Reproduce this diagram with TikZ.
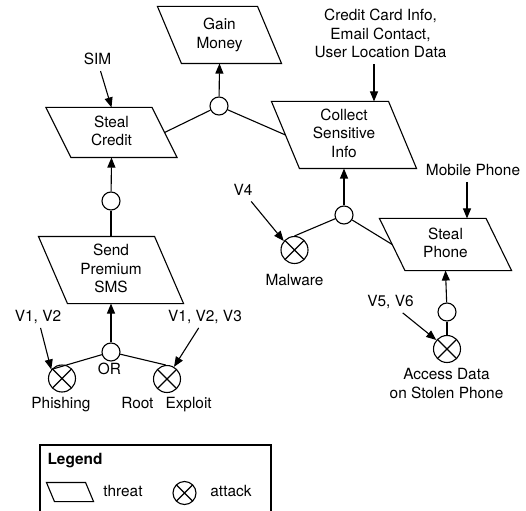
\documentclass[tikz,border=0pt]{standalone}
\usepackage{fontspec}
\setmainfont{TeX Gyre Heros}
\usetikzlibrary{arrows.meta}
\newcommand\mystrut{\rule[-3.5pt]{0pt}{14.5pt}}
% name, centre, top length, height, half slant, text
\newcommand\threatshape[6]{%
  \node[tbox, minimum width=#3pt, minimum height=#4pt] (#1) at (#2) {#6};
  \draw ([xshift=-#5pt]#1.north west) -- ([xshift=-#5pt]#1.north east)
     -- ([xshift=#5pt]#1.south east) -- ([xshift=#5pt]#1.south west) -- cycle;}
\begin{document}
\begin{tikzpicture}[x=1pt,y=-1pt,
  line width=1.1pt,
  every node/.style={font=\fontsize{15.4}{18.5}\selectfont},
  tbox/.style={inner sep=0pt, align=center},
  lbl/.style={inner sep=2pt, align=center},
  gate/.style={circle, draw, fill=white, minimum size=18pt, inner sep=0pt},
  attack/.style={circle, draw, minimum size=27pt, inner sep=0pt,
    path picture={\draw (path picture bounding box.north west) -- (path picture bounding box.south east)
      (path picture bounding box.north east) -- (path picture bounding box.south west);}},
  arr/.style={-{Triangle[length=10pt,width=8pt]}},
]
\path[use as bounding box] (0,0) rectangle (526,510);
\clip (0,0) rectangle (526,510);

% threats
\threatshape{gain}{219.5,35}{99}{56}{12}{\mystrut Gain\\\mystrut Money}
\threatshape{sc}{111.5,132.5}{105}{49}{12.5}{\mystrut Steal\\\mystrut Credit}
\threatshape{sms}{111,270}{115}{66}{14.5}{\mystrut Send\\\mystrut Premium\\\mystrut SMS}
\threatshape{coll}{344,135}{116}{66}{14}{\mystrut Collect\\\mystrut Sensitive\\\mystrut Info}
\threatshape{phone}{445.5,244.5}{105.5}{51}{12.75}{\mystrut Steal\\\mystrut Phone}

% gates
\node[gate] (g1) at (219,106) {};
\node[gate] (g2) at (111,201) {};
\node[gate] (gor) at (111,352) {};
\node[gate] (g3) at (344,215) {};
\node[gate] (g4) at (447,312) {};

% attacks
\node[attack] (phish) at (62,378.5) {};
\node[attack] (root) at (167,379) {};
\node[attack] (malw) at (294.5,250) {};
\node[attack] (acc) at (447,349) {};

% labels
\node[lbl] (sim) at (97.5,61) {\mystrut SIM};
\node[lbl] (cc) at (380.5,35.5) {\mystrut Credit Card Info,\\\mystrut Email Contact,\\\mystrut User Location Data};
\node[lbl] (mob) at (473,172) {\mystrut Mobile Phone};
\node[lbl] (v4) at (243,191.5) {\mystrut V4};
\node[lbl] (mal) at (294.5,282) {\mystrut Malware};
\node[lbl] (v56) at (390.5,303) {\mystrut V5, V6};
\node[lbl] (acct) at (446.5,385) {\mystrut Access Data\\\mystrut on Stolen Phone};
\node[lbl] (v12) at (38,318) {\mystrut V1, V2};
\node[lbl] (v123) at (205,318) {\mystrut V1, V2, V3};
\node[lbl] (or) at (109.5,370) {\mystrut OR};
\node[lbl] (phl) at (61,405) {\mystrut Phishing};
\node[lbl] (rel) at (166.5,405) {\mystrut Root\hspace{12pt}Exploit};

% connectors
\draw[arr] (g1) -- (gain.south);
\draw (sc.east) -- (g1);
\draw (g1) -- (coll.west);
\draw (sms.north) -- (g2);
\draw[arr] (g2) -- (sc.south);
\draw[arr] (gor) -- (sms.south);
\draw (gor) -- (phish.140);
\draw (gor) -- (root.95);
\draw[arr] (g3) -- (coll.south);
\draw (g3) -- (malw.north);
\draw (g3) -- (phone.west);
\draw[arr] (g4) -- (phone.south);
\draw (acc) -- (g4);
\draw[arr] (sim) -- (sc.north);
\draw[arr] ([xshift=-6.5pt]cc.south) -- ([xshift=30pt]coll.north);
\draw[arr] ([xshift=-6pt]mob.south) -- ([xshift=21.5pt]phone.north);
\draw[arr] (v4) -- (malw.140);
\draw[arr] (v56) -- (acc.140);
\draw[arr] (v12) -- (phish.140);
\draw[arr] (v123) -- (root.60);

% legend
\draw (40,520) -- (40,445) -- (271,445) -- (271,520);
\node[lbl, anchor=west, font=\bfseries\fontsize{15.4}{18.5}\selectfont] (legt) at (45,461) {\mystrut Legend};
\threatshape{lth}{70,492}{38}{18}{4}{}
\node[lbl] (lthl) at (123,493) {\mystrut threat};
\node[attack, minimum size=23pt] (lat) at (184.5,493) {};
\node[lbl] (latl) at (231,493) {\mystrut attack};
\end{tikzpicture}
\end{document}
